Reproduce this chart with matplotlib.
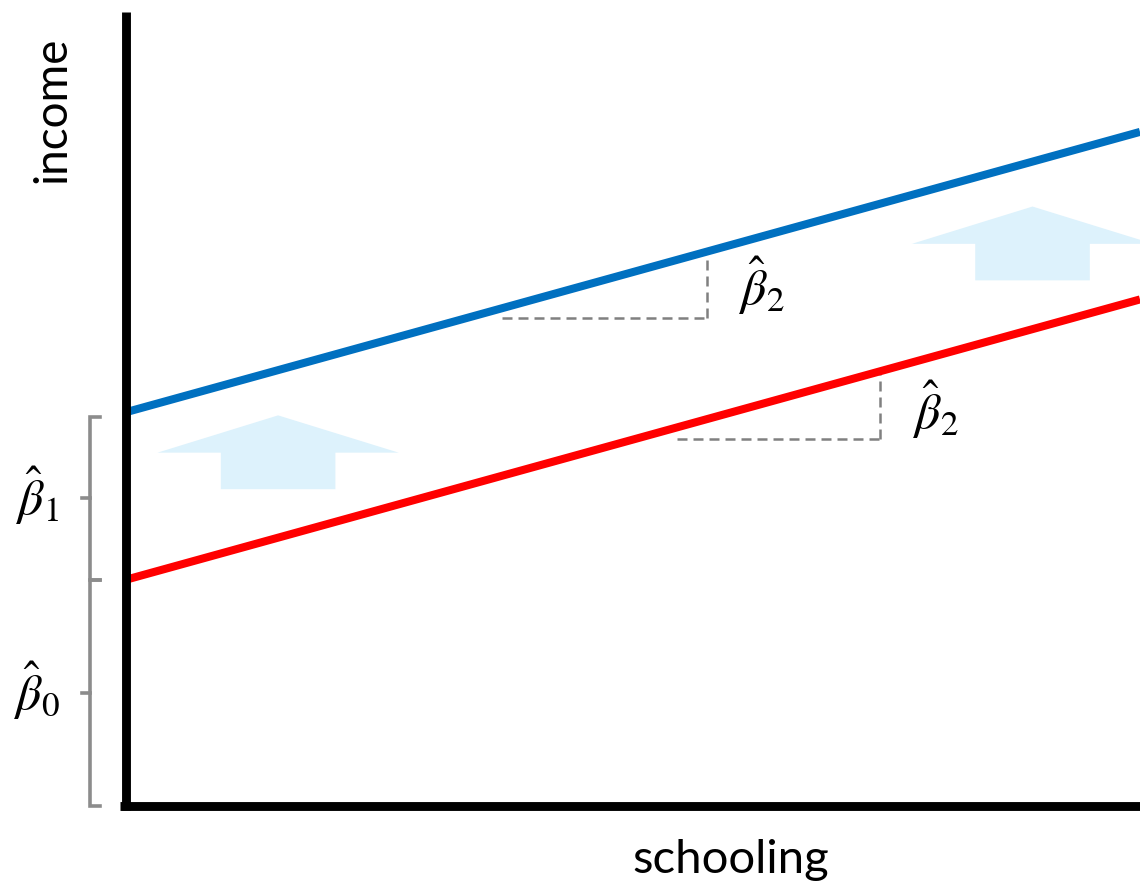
import matplotlib
matplotlib.use("Agg")
import matplotlib.pyplot as plt
from matplotlib.patches import Polygon
import numpy as np

plt.rcParams['font.family'] = ['Lato', 'DejaVu Sans']
plt.rcParams['mathtext.fontset'] = 'stix'

# ---- data (schooling on x, income on y, arbitrary units) ----
x_range = [0.0, 10.0]
beta0 = 2.85          # intercept of the red line
beta1 = 2.11          # shift of the blue line
beta2 = 0.353         # common slope
# slope triangles: (x_start, x_end, y_level)
tri_blue = [3.71, 5.73, 6.15]
tri_red = [5.43, 7.44, 4.62]
# up-arrows: (x_center, y_base_of_head)
arrow_centers = [(1.50, 4.45), (8.94, 7.08)]

W, H = 1140, 890
fig = plt.figure(figsize=(W / 100, H / 100), dpi=100)
L, R, B, T = 126, 1140, 806, 12
ax = fig.add_axes([L / W, (H - B) / H, (R - L) / W, (B - T) / H])
ax.set_xlim(0, 10)
ax.set_ylim(0, 10)
ax.axis('off')

# arrows (light blue)
arrow_col = '#DDF2FC'
head_half, head_h, shaft_half, shaft_h = 1.19, 0.47, 0.565, 0.46
for cx, cy in arrow_centers:
    pts = [(cx - head_half, cy), (cx, cy + head_h), (cx + head_half, cy),
           (cx + shaft_half, cy), (cx + shaft_half, cy - shaft_h),
           (cx - shaft_half, cy - shaft_h), (cx - shaft_half, cy)]
    ax.add_patch(Polygon(pts, closed=True, facecolor=arrow_col,
                         edgecolor='none', zorder=1, clip_on=True))

# regression lines
xs = np.array(x_range)
ax.plot(xs, beta0 + beta2 * xs, color='#FF0000', lw=5.8,
        solid_capstyle='butt', zorder=3)
ax.plot(xs, beta0 + beta1 + beta2 * xs, color='#0070C0', lw=5.8,
        solid_capstyle='butt', zorder=3)

# slope triangles
dash_kw = dict(color='#808080', lw=1.8, dashes=(4, 2.4), zorder=2)
for (x0, x1, yl), b in [(tri_blue, beta0 + beta1), (tri_red, beta0)]:
    ax.plot([x0, x1], [yl, yl], **dash_kw)
    ax.plot([x1, x1], [yl, b + beta2 * x1], **dash_kw)

FS = 36
ax.text(6.27, 6.56, r'$\hat{\beta}_2$', fontsize=FS, ha='center', va='center')
ax.text(7.98, 4.99, r'$\hat{\beta}_2$', fontsize=FS, ha='center', va='center')

# axes lines
ax.plot([0, 0], [-0.05, 10], color='black', lw=6.4, clip_on=False,
        solid_capstyle='butt', zorder=4)
ax.plot([-0.06, 10], [0, 0], color='black', lw=6.4, clip_on=False,
        solid_capstyle='butt', zorder=4)

# braces
brace_col = '#8C8C8C'
bx, bs, bt = -0.355, -0.256, -0.434
def brace(y0, y1):
    ax.plot([bs, bx, bx, bs], [y0, y0, y1, y1], color=brace_col, lw=2.6,
            clip_on=False, solid_joinstyle='miter')
    ym = (y0 + y1) / 2
    ax.plot([bt, bx], [ym, ym], color=brace_col, lw=2.6, clip_on=False)

brace(0.0, beta0)
brace(beta0, beta0 + beta1 - 0.06)

ax.text(-0.88, (beta0 + beta0 + beta1) / 2, r'$\hat{\beta}_1$', fontsize=FS,
        ha='center', va='center')
ax.text(-0.88, beta0 / 2 + 0.03, r'$\hat{\beta}_0$', fontsize=FS,
        ha='center', va='center')

fig.text(52 / W, 1 - 110 / H, 'income', rotation=90, fontsize=33,
         ha='center', va='center')
fig.text(731 / W, 1 - 860 / H, 'schooling', fontsize=34,
         ha='center', va='center')

fig.savefig('out.png', dpi=100)
